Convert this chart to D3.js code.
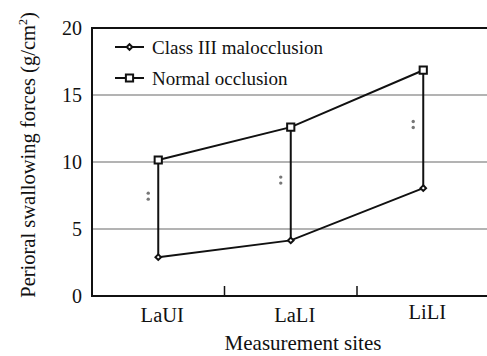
<!DOCTYPE html>
<meta charset="utf-8">
<title>Perioral swallowing forces</title>
<style>
  body { margin: 0; background: #fff; }
  text { font-family: "Liberation Serif", "Times New Roman", serif; fill: #111; }
</style>
<body>
<script src="https://d3js.org/d3.v7.min.js"></script>
<script>

const sites = ["LaUI", "LaLI", "LiLI"];
const classIII = [2.9, 4.15, 8.05];
const normal = [10.15, 12.6, 16.85];
// level (in g/cm2) where the "**" marks sit
const sigLevel = [7.45, 8.65, 12.8];
const yTicks = [0, 5, 10, 15, 20];
const seriesNames = ["Class III malocclusion", "Normal occlusion"];

var width = 487,
  height = 356,
  plotLeft = 92,
  plotTop = 28,
  plotBottom = 296,
  bandRight = 489.5;

var svg = d3.select("body").append("svg")
    .attr("width", width)
    .attr("height", height);

var x = d3.scalePoint().domain(sites).range([plotLeft, bandRight]).padding(0.5);
var band = d3.scaleBand().domain(sites).range([plotLeft, bandRight]);
var y = d3.scaleLinear().domain([0, 20]).range([plotBottom, plotTop]);

// gridlines
svg.selectAll("line.grid")
    .data(yTicks.filter(t => t > 0 && t < 20))
  .enter().append("line")
    .attr("class", "grid")
    .attr("x1", plotLeft).attr("x2", width)
    .attr("y1", d => y(d)).attr("y2", d => y(d))
    .style("stroke", "#9a9a9a").style("stroke-width", 1.5);

// frame: left, top, bottom
svg.append("path")
    .attr("d", `M${width},${plotTop}H${plotLeft}V${plotBottom}H${width}`)
    .style("fill", "none").style("stroke", "#111").style("stroke-width", 2);

// x ticks between categories
svg.selectAll("line.xtick")
    .data(sites.slice(1))
  .enter().append("line")
    .attr("x1", d => band(d)).attr("x2", d => band(d))
    .attr("y1", plotBottom).attr("y2", plotBottom - 10)
    .style("stroke", "#111").style("stroke-width", 1.5);

// y tick labels
svg.selectAll("text.ytick")
    .data(yTicks)
  .enter().append("text")
    .attr("x", plotLeft - 10).attr("y", d => y(d) + 7)
    .attr("text-anchor", "end")
    .style("font-size", "20px")
    .text(d => d);

// x labels
svg.selectAll("text.xlab")
    .data(sites)
  .enter().append("text")
    .attr("x", d => x(d) + 4).attr("y", (d, i) => i == 2 ? 319 : 322)
    .attr("text-anchor", "middle")
    .style("font-size", "20.5px")
    .text(d => d);

svg.append("text")
    .attr("x", 303).attr("y", 350)
    .attr("text-anchor", "middle")
    .style("font-size", "21px")
    .text("Measurement sites");

var yl = svg.append("text")
    .attr("transform", "translate(35,155) rotate(-90)")
    .attr("text-anchor", "middle")
    .style("font-size", "20.5px");
yl.append("tspan").text("Perioral swallowing forces (g/cm");
yl.append("tspan").attr("dy", -8).style("font-size", "12px").text("2");
yl.append("tspan").attr("dy", 8).text(")");

// drop lines between the two groups
svg.selectAll("line.drop")
    .data(sites)
  .enter().append("line")
    .attr("x1", d => x(d)).attr("x2", d => x(d))
    .attr("y1", (d, i) => y(normal[i])).attr("y2", (d, i) => y(classIII[i]))
    .style("stroke", "#111").style("stroke-width", 2);

var line = d3.line().x((d, i) => x(sites[i])).y(d => y(d));
[classIII, normal].forEach(s => {
  svg.append("path").attr("d", line(s))
    .style("fill", "none").style("stroke", "#111").style("stroke-width", 2);
});

// significance marks
svg.selectAll("g.sig")
    .data(sites)
  .enter().append("g")
    .attr("transform", (d, i) => `translate(${x(d) - 10},${y(sigLevel[i])})`)
  .selectAll("circle")
    .data([-3, 3])
  .enter().append("circle")
    .attr("cy", d => d).attr("r", 1.7)
    .style("fill", "#777");

var diamond = d3.symbol().type(d3.symbolDiamond2).size(20);
var square = d3.symbol().type(d3.symbolSquare).size(52);

function drawMarks(data, sym) {
  svg.selectAll(null)
      .data(data)
    .enter().append("path")
      .attr("d", sym)
      .attr("transform", (d, i) => `translate(${x(sites[i])},${y(d)})`)
      .style("fill", "#fff").style("stroke", "#111").style("stroke-width", 2);
}
drawMarks(classIII, diamond);
drawMarks(normal, square);

// legend
var legend = svg.selectAll("g.legend")
    .data(seriesNames)
  .enter().append("g")
    .attr("transform", (d, i) => `translate(115,${47 + i * 31})`);
legend.append("line")
    .attr("x1", 0).attr("x2", 29)
    .style("stroke", "#111").style("stroke-width", 2);
legend.append("path")
    .attr("d", (d, i) => i == 0 ? diamond() : square())
    .attr("transform", "translate(14.5,0)")
    .style("fill", "#fff").style("stroke", "#111").style("stroke-width", 2);
legend.append("text")
    .attr("x", 37).attr("y", 6.5)
    .style("font-size", "19px")
    .text(d => d);

</script>
